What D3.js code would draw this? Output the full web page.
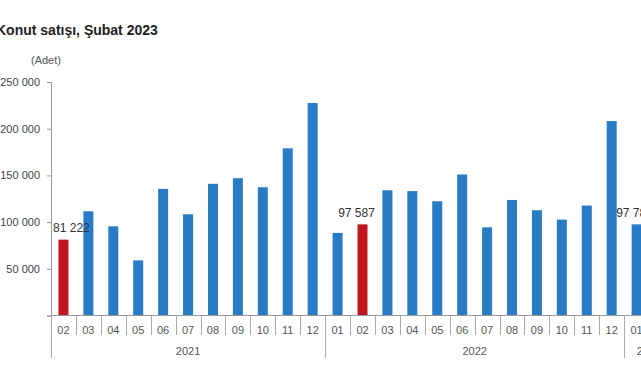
<!DOCTYPE html>
<html>
<head>
<meta charset="utf-8">
<script src="https://cdn.jsdelivr.net/npm/d3@7"></script>
<style>
  body { margin: 0; background: #fff; }
  svg { display: block; overflow: hidden; }
</style>
</head>
<body>
<div id="chart"></div>
<script>
// data
var months = ["02","03","04","05","06","07","08","09","10","11","12",
              "01","02","03","04","05","06","07","08","09","10","11","12",
              "01","02"];
var years = ["2021","2021","2021","2021","2021","2021","2021","2021","2021","2021","2021",
             "2022","2022","2022","2022","2022","2022","2022","2022","2022","2022","2022","2022",
             "2023","2023"];
var sales = [81222, 111600, 95500, 59000, 135600, 108400, 141000, 147000, 137300, 179000, 227500,
             88400, 97587, 134100, 133200, 122300, 151000, 94400, 123700, 112700, 102700, 117700, 208200,
             97600, 97785];
var yTicks = [0, 50000, 100000, 150000, 200000, 250000];
var yearNames = ["2021", "2022", "2023"];

var width = 641, height = 380;
var blue = "#2a7bc5", red = "#bf1720";

var fmt = d3.formatLocale({decimal: ",", thousands: " ", grouping: [3]}).format(",d");

var data = months.map(function(m, i){
    return {key: years[i] + "-" + m, month: m, year: years[i], value: sales[i]};
});

var svg = d3.select("#chart").append("svg")
    .attr("width", width).attr("height", height);

var step = 24.92;
var x = d3.scaleBand()
    .domain(data.map(function(d){ return d.key; }))
    .range([51, 51 + step * data.length])
    .padding(0);
var y = d3.scaleLinear()
    .domain([0, 250000])
    .range([315.5, 82]);

var barW = 10;

// title
svg.append("text")
    .attr("x", -4).attr("y", 35)
    .attr("font-family", "Arial, 'Liberation Sans', sans-serif")
    .attr("font-size", 14).attr("font-weight", "bold")
    .attr("fill", "#222")
    .text("Konut satışı, Şubat 2023");

svg.append("text")
    .attr("x", 31).attr("y", 64)
    .attr("font-family", "Arial, 'Liberation Sans', sans-serif")
    .attr("font-size", 11).attr("fill", "#555")
    .text("(Adet)");

// y axis
var yAxis = d3.axisLeft(y).tickValues(yTicks).tickSize(4).tickPadding(7)
    .tickFormat(function(d){ return d === 0 ? "" : fmt(d); });
var gy = svg.append("g").attr("transform", "translate(51,0)").call(yAxis);
gy.select(".domain").attr("stroke", "#999");
gy.selectAll(".tick line").attr("stroke", "#999");
gy.selectAll("text")
    .attr("font-family", "Arial, 'Liberation Sans', sans-serif")
    .attr("font-size", 11).attr("fill", "#444");

// bars
svg.append("g").selectAll("rect")
    .data(data).enter().append("rect")
    .attr("x", function(d){ return x(d.key) + (x.bandwidth() - barW) / 2; })
    .attr("width", barW)
    .attr("y", function(d){ return y(d.value); })
    .attr("height", function(d){ return y(0) - y(d.value); })
    .attr("fill", function(d){ return d.month === "02" ? red : blue; });

// labels on the February bars (hand-nudged as in the source)
var labelShift = {"2021-02": 8, "2022-02": -6, "2023-02": -27};
svg.append("g").selectAll("text")
    .data(data.filter(function(d){ return d.month === "02"; }))
    .enter().append("text")
    .attr("x", function(d){ return x(d.key) + x.bandwidth() / 2 + labelShift[d.key]; })
    .attr("y", function(d){ return y(d.value) - 7.5; })
    .attr("text-anchor", "middle")
    .attr("font-family", "Arial, 'Liberation Sans', sans-serif")
    .attr("font-size", 12).attr("fill", "#333")
    .text(function(d){ return fmt(d.value); });

// x axis: baseline, month separators, month labels, year separators and labels
var axisG = svg.append("g");
axisG.append("line")
    .attr("x1", 51).attr("x2", x.range()[1])
    .attr("y1", y(0)).attr("y2", y(0))
    .attr("stroke", "#999");

axisG.selectAll("line.sep")
    .data(data).enter().append("line")
    .attr("class", "sep")
    .attr("x1", function(d){ return Math.round(x(d.key)) + 0.5; })
    .attr("x2", function(d){ return Math.round(x(d.key)) + 0.5; })
    .attr("y1", y(0))
    .attr("y2", function(d, i){ return (i === 0 || years[i] !== years[i-1]) ? 358 : 335; })
    .attr("stroke", "#aaa");

axisG.selectAll("text.month")
    .data(data).enter().append("text")
    .attr("class", "month")
    .attr("x", function(d){ return x(d.key) + x.bandwidth() / 2; })
    .attr("y", 334)
    .attr("text-anchor", "middle")
    .attr("font-family", "Arial, 'Liberation Sans', sans-serif")
    .attr("font-size", 11).attr("fill", "#555")
    .text(function(d){ return d.month; });

axisG.selectAll("text.year")
    .data(yearNames).enter().append("text")
    .attr("class", "year")
    .attr("x", function(yr){
        var ks = data.filter(function(d){ return d.year === yr; });
        var a = x(ks[0].key), b = x(ks[ks.length-1].key) + x.bandwidth();
        return (a + b) / 2;
    })
    .attr("y", 355)
    .attr("text-anchor", "middle")
    .attr("font-family", "Arial, 'Liberation Sans', sans-serif")
    .attr("font-size", 11).attr("fill", "#555")
    .text(function(yr){ return yr; });
</script>
</body>
</html>
